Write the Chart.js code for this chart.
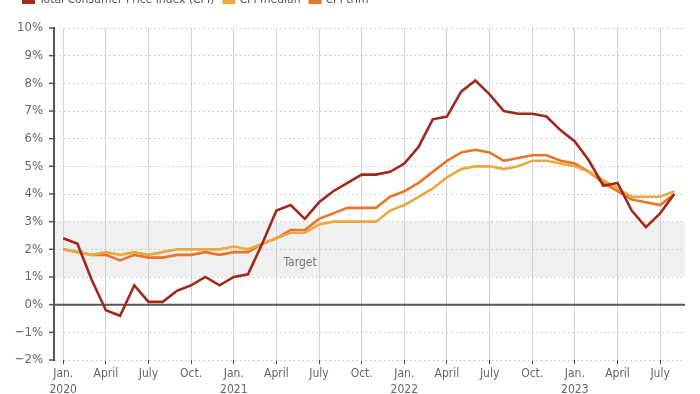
<!DOCTYPE html>
<html>
<head>
<meta charset="utf-8">
<script src="https://cdn.jsdelivr.net/npm/chart.js@4.4.0/dist/chart.umd.min.js"></script>
<style>
  html, body { margin: 0; padding: 0; background: #fff; }
  #wrap { position: relative; width: 700px; height: 394px; overflow: hidden; }
</style>
</head>
<body>
<div id="wrap"><canvas id="chart" width="700" height="394"></canvas></div>
<script>
// monthly, Jan 2020 .. Aug 2023 (year-over-year %)
const cpi = [2.4, 2.2, 0.9, -0.2, -0.4, 0.7, 0.1, 0.1, 0.5, 0.7, 1.0, 0.7,
             1.0, 1.1, 2.2, 3.4, 3.6, 3.1, 3.7, 4.1, 4.4, 4.7, 4.7, 4.8,
             5.1, 5.7, 6.7, 6.8, 7.7, 8.1, 7.6, 7.0, 6.9, 6.9, 6.8, 6.3,
             5.9, 5.2, 4.3, 4.4, 3.4, 2.8, 3.3, 4.0];
const cpiMedian = [2.0, 1.9, 1.8, 1.9, 1.8, 1.9, 1.8, 1.9, 2.0, 2.0, 2.0, 2.0,
                   2.1, 2.0, 2.2, 2.4, 2.6, 2.6, 2.9, 3.0, 3.0, 3.0, 3.0, 3.4,
                   3.6, 3.9, 4.2, 4.6, 4.9, 5.0, 5.0, 4.9, 5.0, 5.2, 5.2, 5.1,
                   5.0, 4.8, 4.5, 4.2, 3.9, 3.9, 3.9, 4.1];
const cpiTrim = [2.0, 1.9, 1.8, 1.8, 1.6, 1.8, 1.7, 1.7, 1.8, 1.8, 1.9, 1.8,
                 1.9, 1.9, 2.2, 2.4, 2.7, 2.7, 3.1, 3.3, 3.5, 3.5, 3.5, 3.9,
                 4.1, 4.4, 4.8, 5.2, 5.5, 5.6, 5.5, 5.2, 5.3, 5.4, 5.4, 5.2,
                 5.1, 4.8, 4.4, 4.1, 3.8, 3.7, 3.6, 4.0];

const seriesNames = ['Total Consumer Price Index (CPI)', 'CPI median', 'CPI trim'];
const seriesColors = ['#a3281c', '#e9a93e', '#e7762c'];

// quarter ticks (month index from Jan 2020) and their labels
const tickMonths = [0, 3, 6, 9, 12, 15, 18, 21, 24, 27, 30, 33, 36, 39, 42];
const tickLabels = [['Jan.', '2020'], 'April', 'July', 'Oct.',
                    ['Jan.', '2021'], 'April', 'July', 'Oct.',
                    ['Jan.', '2022'], 'April', 'July', 'Oct.',
                    ['Jan.', '2023'], 'April', 'July'];

const targetLow = 1, targetHigh = 3;
const FONT = "'Liberation Sans Narrow', 'DejaVu Sans Condensed', 'Noto Sans', sans-serif";

const toPoints = arr => arr.map((v, i) => ({ x: i, y: v }));

const extras = {
  id: 'extras',
  beforeDraw(chart) {
    const { ctx, chartArea: a, scales: { y } } = chart;
    ctx.save();
    ctx.fillStyle = '#f0f0f0';
    const top = y.getPixelForValue(targetHigh), bot = y.getPixelForValue(targetLow);
    ctx.fillRect(a.left, top, a.right - a.left, bot - top);
    ctx.restore();
  },
  beforeDatasetsDraw(chart) {
    const { ctx, chartArea: a, scales: { x, y } } = chart;
    ctx.save();
    // zero line
    ctx.strokeStyle = '#555';
    ctx.lineWidth = 2;
    const y0 = y.getPixelForValue(0);
    ctx.beginPath(); ctx.moveTo(a.left, y0); ctx.lineTo(a.right, y0); ctx.stroke();
    // y tick marks
    ctx.lineWidth = 1.5;
    y.ticks.forEach(t => {
      const py = y.getPixelForValue(t.value);
      ctx.beginPath(); ctx.moveTo(a.left - 5, py); ctx.lineTo(a.left, py); ctx.stroke();
    });
    // target label
    ctx.fillStyle = '#777';
    ctx.font = '12px ' + FONT;
    ctx.textBaseline = 'middle';
    ctx.fillText('Target', x.getPixelForValue(15.5), y.getPixelForValue(1.5));
    ctx.restore();
  },
  afterDraw(chart) {
    // legend, partly cut at the top edge
    const { ctx } = chart;
    ctx.save();
    ctx.font = '12px ' + FONT;
    ctx.textBaseline = 'alphabetic';
    let px = 22;
    chart.data.datasets.forEach(ds => {
      ctx.fillStyle = ds.borderColor;
      ctx.fillRect(px, -2, 13, 6);
      px += 17;
      ctx.fillStyle = '#555';
      ctx.fillText(ds.label, px, 3);
      px += ctx.measureText(ds.label).width + 8;
    });
    ctx.restore();
  }
};

new Chart(document.getElementById('chart'), {
  type: 'line',
  data: {
    datasets: [cpi, cpiMedian, cpiTrim].map((arr, i) => ({
      label: seriesNames[i],
      data: toPoints(arr),
      borderColor: seriesColors[i],
      backgroundColor: seriesColors[i],
      borderWidth: 2.6,
      pointRadius: 0,
      tension: 0,
      borderJoinStyle: 'miter'
    }))
  },
  options: {
    responsive: false,
    animation: false,
    layout: { padding: { top: 28, right: 15, left: 0, bottom: 0 } },
    plugins: { legend: { display: false }, tooltip: { enabled: false } },
    scales: {
      x: {
        type: 'linear',
        min: -0.65,
        max: 43.75,
        afterBuildTicks: s => { s.ticks = tickMonths.map(v => ({ value: v })); },
        afterFit: s => { s.height = 34; },
        grid: { color: '#cdd5dc', lineWidth: 1, tickLength: 4, tickColor: '#444' },
        border: { display: false },
        ticks: {
          autoSkip: false,
          maxRotation: 0,
          padding: 2,
          color: '#666',
          font: { family: FONT, size: 12, lineHeight: 1.35 },
          callback: v => tickLabels[tickMonths.indexOf(v)]
        }
      },
      y: {
        min: -2,
        max: 10,
        afterFit: s => { s.width = 54; },
        ticks: {
          stepSize: 1,
          padding: 11,
          color: '#666',
          font: { family: FONT, size: 13 },
          callback: v => (v < 0 ? '\u2212' + Math.abs(v) : v) + '%'
        },
        grid: { color: '#c4c4c4', lineWidth: 1, drawTicks: false },
        border: { display: true, color: '#555', width: 2, dash: [1.5, 3] }
      }
    }
  },
  plugins: [extras]
});
</script>
</body>
</html>
